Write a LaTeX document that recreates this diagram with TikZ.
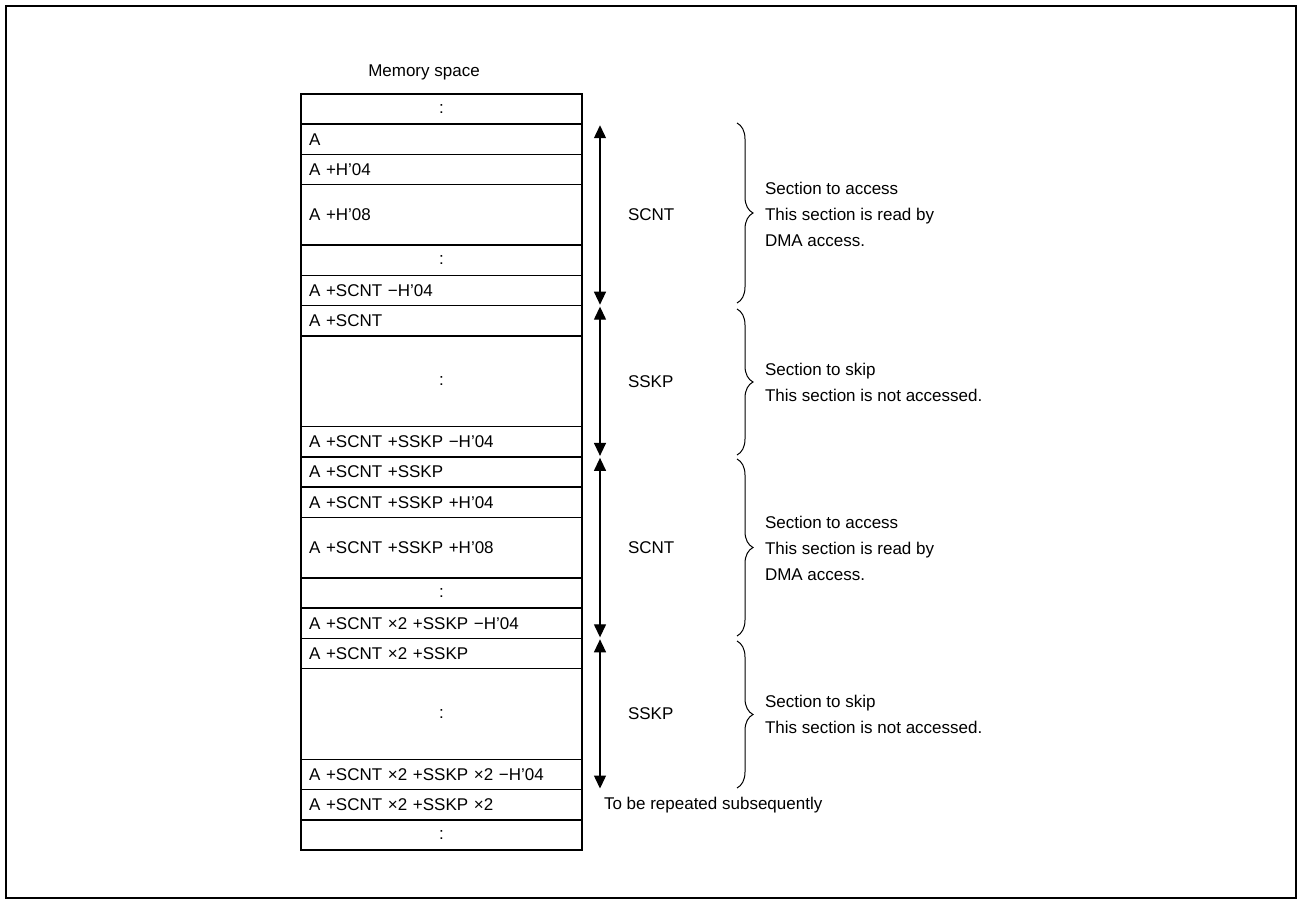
\documentclass[tikz,border=0pt]{standalone}
\usepackage{fontspec}
\setmainfont{Liberation Sans}
\usetikzlibrary{arrows.meta,decorations.pathreplacing}
\begin{document}
\begin{tikzpicture}[x=1pt,y=-1pt,
  txt/.style={font=\fontsize{17}{26}\selectfont, inner sep=0pt, outer sep=0pt},
  cell/.style={draw, line width=1.5pt, anchor=north west, outer sep=0pt,
    inner xsep=8pt, inner ysep=0pt, text width=265pt, align=left,
    minimum height=#1*30.24pt, font=\fontsize{17}{20}\selectfont},
  cell/.default=1,
  dots/.style={cell=#1, align=center},
  dots/.default=1,
  span/.style={{Triangle[width=12pt,length=13pt]}-{Triangle[width=12pt,length=13pt]},
    line width=1.3pt, shorten <=1pt, shorten >=1pt},
  curly/.style={decorate, decoration={brace, amplitude=16pt}, line width=1pt},
  note/.style={txt, anchor=west, align=left}
]
\useasboundingbox (0,0) rectangle (1301,902);
\draw[line width=2pt] (6,6) rectangle (1296,898);

\node[txt] (title) at (424,72) {Memory space};

\node[dots] (r1) at (301,94) {:};
\node[cell] (r2) at (r1.south west) {A};
\node[cell] (r3) at (r2.south west) {A +H’04};
\node[cell=2] (r4) at (r3.south west) {A +H’08};
\node[dots] (r5) at (r4.south west) {:};
\node[cell] (r6) at (r5.south west) {A +SCNT −H’04};
\node[cell] (r7) at (r6.south west) {A +SCNT};
\node[dots=3] (r8) at (r7.south west) {:};
\node[cell] (r9) at (r8.south west) {A +SCNT +SSKP −H’04};
\node[cell] (r10) at (r9.south west) {A +SCNT +SSKP};
\node[cell] (r11) at (r10.south west) {A +SCNT +SSKP +H’04};
\node[cell=2] (r12) at (r11.south west) {A +SCNT +SSKP +H’08};
\node[dots] (r13) at (r12.south west) {:};
\node[cell] (r14) at (r13.south west) {A +SCNT ×2 +SSKP −H’04};
\node[cell] (r15) at (r14.south west) {A +SCNT ×2 +SSKP};
\node[dots=3] (r16) at (r15.south west) {:};
\node[cell] (r17) at (r16.south west) {A +SCNT ×2 +SSKP ×2 −H’04};
\node[cell] (r18) at (r17.south west) {A +SCNT ×2 +SSKP ×2};
\node[dots] (r19) at (r18.south west) {:};

\coordinate (ax) at (600,0);
\draw[span] (r2.north -| ax) -- (r6.south -| ax);
\draw[span] (r7.north -| ax) -- (r9.south -| ax);
\draw[span] (r10.north -| ax) -- (r14.south -| ax);
\draw[span] (r15.north -| ax) -- (r17.south -| ax);

\node[txt, anchor=west] (s1) at (628,214.96) {SCNT};
\node[txt, anchor=west] (s2) at (628,381.28) {SSKP};
\node[txt, anchor=west] (s3) at (628,547.6) {SCNT};
\node[txt, anchor=west] (s4) at (628,713.92) {SSKP};

\coordinate (b1t) at (737,123);
\coordinate (b1b) at (737,303);
\coordinate (b2t) at (737,309);
\coordinate (b2b) at (737,455);
\coordinate (b3t) at (737,459);
\coordinate (b3b) at (737,636);
\coordinate (b4t) at (737,641);
\coordinate (b4b) at (737,788);
\draw[curly] (b1t) -- (b1b);
\draw[curly] (b2t) -- (b2b);
\draw[curly] (b3t) -- (b3b);
\draw[curly] (b4t) -- (b4b);

\node[note] (n1) at (765,214) {Section to access\\This section is read by\\DMA access.};
\node[note] (n2) at (765,382) {Section to skip\\This section is not accessed.};
\node[note] (n3) at (765,548) {Section to access\\This section is read by\\DMA access.};
\node[note] (n4) at (765,714) {Section to skip\\This section is not accessed.};

\node[txt, anchor=west] (rep) at (604,804.6) {To be repeated subsequently};
\end{tikzpicture}
\end{document}
